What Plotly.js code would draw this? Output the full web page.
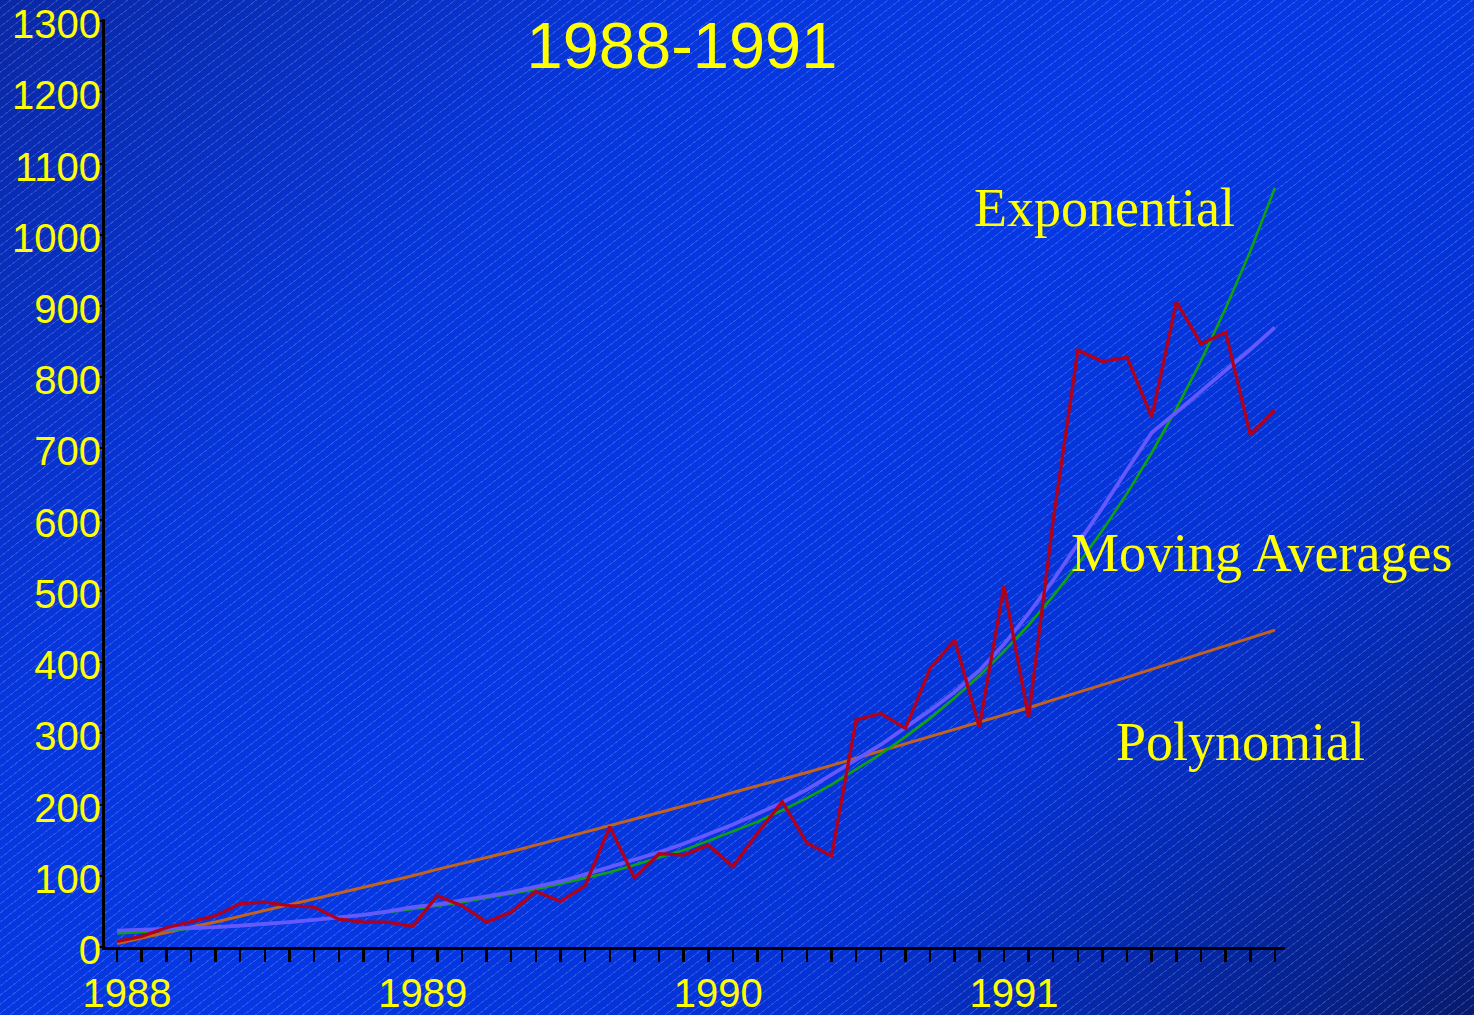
<!DOCTYPE html>
<html>
<head>
<meta charset="utf-8">
<script src="https://cdn.plot.ly/plotly-3.0.1.min.js"></script>
<style>
  html, body { margin:0; padding:0; width:1474px; height:1015px; overflow:hidden; }
  body {
    background-image:
      repeating-linear-gradient(142deg, rgba(255,255,255,0) 0px, rgba(255,255,255,0) 6.2px, rgba(170,190,255,0.22) 6.2px, rgba(170,190,255,0.22) 7.2px),
      linear-gradient(135deg, #0a28a4 0%, #0636dc 28%, #0538e4 50%, #0432d4 72%, #06228f 92%, #071a6c 100%);
  }
  #chart { width:1474px; height:1015px; }
</style>
</head>
<body>
<div id="chart"></div>
<script>
const monthIndex = [0,1,2,3,4,5,6,7,8,9,10,11,12,13,14,15,16,17,18,19,20,21,22,23,24,25,26,27,28,29,30,31,32,33,34,35,36,37,38,39,40,41,42,43,44,45,46,47];
const tickLabels = ['1988','','','','','','','','','','','',
                    '1989','','','','','','','','','','','',
                    '1990','','','','','','','','','','','',
                    '1991','','','','','','','','','','',''];
const observed = [8,15,27,36,44,61,63,58,56,39,35,35,
                  29,72,58,35,49,78,64,86,169,97,131,129,
                  143,113,160,204,146,128,319,328,307,391,431,309,
                  507,322,600,838,822,828,744,906,847,863,719,754];
const exponential = [19,21,23,25,27,29,32,35,38,41,45,49,
                     53,58,63,69,75,81,89,97,105,115,125,136,
                     149,162,176,192,209,228,249,271,295,321,350,381,
                     415,452,493,537,585,637,694,756,823,897,977,1066];
const movingAvg = [23,24,25,27,28,30,32,35,38,41,45,50,
                   56,60,65,71,77,84,92,102,112,122,133,145,
                   158,172,187,203,221,242,262,284,308,332,358,388,
                   425,468,515,565,617,670,722,751,780,810,839,870];
const polynomial = [5,13,20,28,35,43,51,59,67,75,83,92,
                    100,109,117,126,134,143,152,161,170,179,188,198,
                    207,217,226,236,245,255,265,275,285,295,305,315,
                    326,336,347,357,368,379,390,401,412,423,434,445];
const yTicks = [0,100,200,300,400,500,600,700,800,900,1000,1100,1200,1300];
const labels = [
  {text:'Exponential', x:0.7347, y:0.7959},
  {text:'Moving Averages', x:0.8170, y:0.4244},
  {text:'Polynomial', x:0.8551, y:0.2214}
];

const traces = [
  {x: monthIndex, y: polynomial, mode:'lines', line:{color:'#c2621c', width:3}, name:'Polynomial'},
  {x: monthIndex, y: exponential, mode:'lines', line:{color:'#0ea210', width:2.6}, name:'Exponential'},
  {x: monthIndex, y: movingAvg, mode:'lines', line:{color:'#6558ff', width:3.8}, name:'Moving Averages'},
  {x: monthIndex, y: observed, mode:'lines', line:{color:'#b0001c', width:3.3}, name:'Data'}
];

const layout = {
  width:1474, height:1015,
  margin:{l:105, r:189, t:19, b:68, pad:0},
  paper_bgcolor:'rgba(0,0,0,0)',
  plot_bgcolor:'rgba(0,0,0,0)',
  showlegend:false,
  title:{text:'1988-1991', font:{family:'Liberation Sans, Arial, sans-serif', size:65, color:'#ffff00'},
         xref:'container', x:682/1474, xanchor:'center', yref:'container', y:1-45/1015, yanchor:'middle'},
  xaxis:{
    range:[-0.49, 47.41], tickmode:'array', tickvals: monthIndex, ticktext: tickLabels,
    showgrid:false, zeroline:false, showline:true, linecolor:'#000', linewidth:3,
    ticks:'outside', ticklen:12, tickwidth:2.5, tickcolor:'#000',
    tickfont:{family:'Liberation Sans, Arial, sans-serif', size:40, color:'#ffff00'},
    ticklabelshift:10, ticklabelstandoff:-3, fixedrange:true
  },
  yaxis:{
    range:[0,1303], tickmode:'array', tickvals: yTicks,
    showgrid:false, zeroline:false, showline:true, linecolor:'#000', linewidth:3,
    ticks:'outside', ticklen:5, tickwidth:2, tickcolor:'#000',
    tickfont:{family:'Liberation Sans, Arial, sans-serif', size:40, color:'#ffff00'},
    ticklabelstandoff:-12, ticklabelshift:3, ticklabeloverflow:'allow', fixedrange:true
  },
  annotations: labels.map(l => ({
    text:l.text, xref:'paper', yref:'paper', x:l.x, y:l.y, xanchor:'left', yanchor:'middle',
    showarrow:false, font:{family:'Liberation Serif, Times New Roman, serif', size:54, color:'#ffff00'}
  }))
};

Plotly.newPlot('chart', traces, layout, {displayModeBar:false, staticPlot:true});
</script>
</body>
</html>
